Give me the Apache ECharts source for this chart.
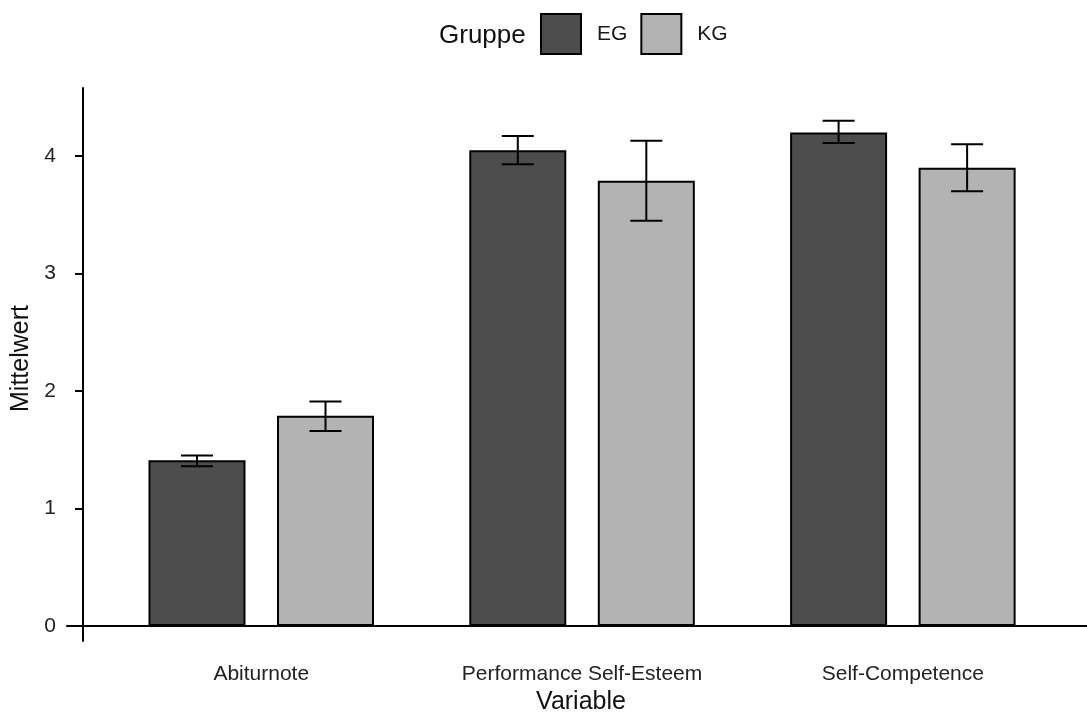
<!DOCTYPE html>
<html>
<head>
<meta charset="utf-8">
<title>Mittelwert nach Gruppe</title>
<script src="https://cdn.jsdelivr.net/npm/echarts@6/dist/echarts.min.js"></script>
<style>
  html, body { margin: 0; padding: 0; background: #ffffff; }
  #chart { width: 1087px; height: 713px; }
</style>
</head>
<body>
<div id="chart"></div>
<script>
// Variables shown on the x axis (positioned at 1, 2, 3)
const categories = ['Abiturnote', 'Performance Self-Esteem', 'Self-Competence'];
const groups = ['EG', 'KG'];

// Group means
const meanEG = [1.41, 4.05, 4.20];
const meanKG = [1.79, 3.79, 3.90];

// Error bar ends (lower / upper)
const lowEG = [1.36, 3.93, 4.11];
const highEG = [1.45, 4.17, 4.30];
const lowKG = [1.66, 3.45, 3.70];
const highKG = [1.91, 4.13, 4.10];

// y axis tick values
const yTicks = [0, 1, 2, 3, 4];

const FONT = '"Liberation Sans", Arial, sans-serif';
const BAR_W = 97;
const BAR_GAP = 0.325;
// distance from the category position to each bar's centre
const HALF_STEP = (BAR_W * (1 + BAR_GAP)) / 2;

const xs = categories.map((_, i) => i + 1);
const barData = (means) => means.map((m, i) => [xs[i], m]);
const errData = (lo, hi) => lo.map((l, i) => [xs[i], l, hi[i]]);

function errorBar(shift) {
  return function (params, api) {
    const x = api.value(0);
    const lo = api.coord([x, api.value(1)]);
    const hi = api.coord([x, api.value(2)]);
    const cx = lo[0] + shift;
    const cap = 16;
    const style = { stroke: '#000', lineWidth: 2 };
    return {
      type: 'group',
      children: [
        { type: 'line', shape: { x1: cx, y1: hi[1], x2: cx, y2: lo[1] }, style: style },
        { type: 'line', shape: { x1: cx - cap, y1: hi[1], x2: cx + cap, y2: hi[1] }, style: style },
        { type: 'line', shape: { x1: cx - cap, y1: lo[1], x2: cx + cap, y2: lo[1] }, style: style }
      ]
    };
  };
}

const chart = echarts.init(document.getElementById('chart'), null, { renderer: 'canvas' });

chart.setOption({
  animation: false,
  backgroundColor: '#ffffff',
  title: {
    text: 'Gruppe',
    left: 439,
    top: 23,
    padding: 0,
    textStyle: { fontFamily: FONT, fontSize: 26, fontWeight: 'normal', color: '#111' }
  },
  legend: {
    data: groups,
    left: 540,
    top: 13,
    padding: 0,
    icon: 'rect',
    itemWidth: 40,
    itemHeight: 40,
    itemGap: 13,
    itemStyle: { borderColor: '#000', borderWidth: 2 },
    textStyle: { fontFamily: FONT, fontSize: 21, color: '#1a1a1a', padding: [4, 0, 0, 11] }
  },
  grid: { left: 67, right: 0, top: 88, bottom: 72, containLabel: false, outerBoundsMode: 'none' },
  xAxis: {
    type: 'value',
    min: 0.3945,
    max: 3.574,
    name: 'Variable',
    nameLocation: 'middle',
    nameGap: 49,
    nameTextStyle: { fontFamily: FONT, fontSize: 25, color: '#111', padding: [0, 0, 0, 8] },
    axisLine: { onZero: true, lineStyle: { color: '#000', width: 2 } },
    axisTick: { show: false },
    splitLine: { show: false },
    axisLabel: {
      customValues: xs,
      formatter: (v) => categories[Math.round(v) - 1] || '',
      margin: 23,
      fontFamily: FONT,
      fontSize: 21,
      color: '#222'
    }
  },
  yAxis: {
    type: 'value',
    min: -0.128,
    max: 4.579,
    offset: -16,
    name: 'Mittelwert',
    nameLocation: 'middle',
    nameGap: 43,
    nameTextStyle: { fontFamily: FONT, fontSize: 25, color: '#111', padding: [0, 0, 0, 12] },
    axisLine: { show: true, lineStyle: { color: '#000', width: 2 } },
    axisTick: { show: true, length: 8, customValues: yTicks, lineStyle: { color: '#000', width: 2 } },
    splitLine: { show: false },
    axisLabel: {
      customValues: yTicks,
      margin: 27,
      fontFamily: FONT,
      fontSize: 21,
      color: '#222'
    }
  },
  series: [
    {
      name: 'EG',
      type: 'bar',
      data: barData(meanEG),
      barWidth: BAR_W,
      barGap: (BAR_GAP * 100) + '%',
      itemStyle: { color: '#4d4d4d', borderColor: '#000', borderWidth: 2 }
    },
    {
      name: 'KG',
      type: 'bar',
      data: barData(meanKG),
      barWidth: BAR_W,
      barGap: (BAR_GAP * 100) + '%',
      itemStyle: { color: '#b3b3b3', borderColor: '#000', borderWidth: 2 }
    },
    {
      name: 'EG Fehlerbalken',
      type: 'custom',
      renderItem: errorBar(-HALF_STEP),
      data: errData(lowEG, highEG),
      encode: { x: 0, y: [1, 2] },
      z: 5
    },
    {
      name: 'KG Fehlerbalken',
      type: 'custom',
      renderItem: errorBar(HALF_STEP),
      data: errData(lowKG, highKG),
      encode: { x: 0, y: [1, 2] },
      z: 5
    }
  ]
});
</script>
</body>
</html>
